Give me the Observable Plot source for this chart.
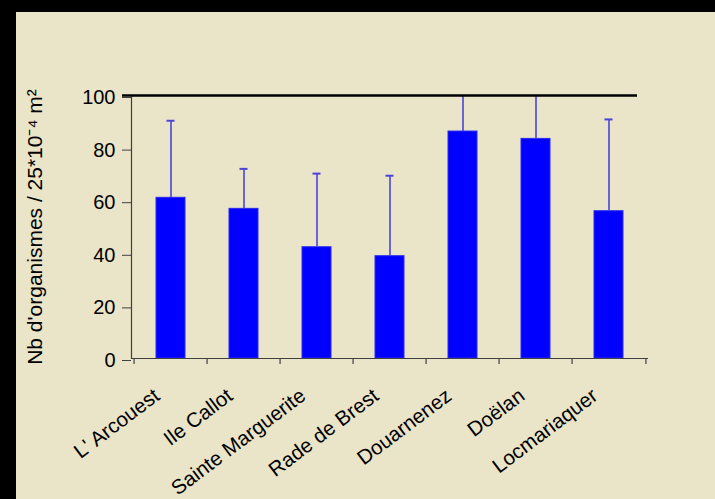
<!DOCTYPE html>
<html>
<head>
<meta charset="utf-8">
<script src="https://cdn.jsdelivr.net/npm/d3@7"></script>
<script src="https://cdn.jsdelivr.net/npm/@observablehq/plot@0.6"></script>
<style>
  html, body { margin: 0; padding: 0; background: #000; }
  body { padding: 12px 0 0 16px; width: 699px; height: 487px; }
  #chart svg { display: block; background: #EAE4C8; }
</style>
</head>
<body>
<div id="chart"></div>
<script>
const sites = ["L' Arcouest", "Ile Callot", "Sainte Marguerite", "Rade de Brest", "Douarnenez", "Doëlan", "Locmariaquer"];
const means = [61.1, 56.9, 42.3, 38.9, 86.3, 83.5, 56.0];
const upper = [90.4, 72.1, 70.3, 69.5, 115, 113, 90.9];
const yTicks = [0, 20, 40, 60, 80, 100];
const yLabel = "Nb d'organismes / 25*10⁻⁴ m²";

const data = sites.map((s, i) => ({site: s, mean: means[i], upper: upper[i]}));

const W = 699, H = 487;
const mL = 115, mR = 67, mT = 83, mB = 141;
const step = (W - mL - mR) / sites.length;
const font = "'Liberation Sans', Arial, sans-serif";
const axisColor = "#404040";

const chart = Plot.plot({
  width: W,
  height: H,
  marginLeft: mL,
  marginRight: mR,
  marginTop: mT,
  marginBottom: mB,
  style: {fontFamily: font, background: "#EAE4C8", color: "#000"},
  x: {type: "band", domain: sites, paddingInner: 0.6, paddingOuter: 0.3, axis: null},
  y: {domain: [0, 100], axis: null},
  marks: [
    Plot.barY(data, {x: "site", y: "mean", fill: "#0000FF", stroke: "#2a2af0", strokeWidth: 1}),
    Plot.ruleX(data, {x: "site", y1: "mean", y2: "upper", stroke: "#4b44d8", strokeWidth: 1.6, clip: true}),
    Plot.tickY(data.filter(d => d.upper <= 100), {x: "site", y: "upper", stroke: "#4b44d8", strokeWidth: 2, insetLeft: 10.5, insetRight: 10.5}),
    Plot.ruleY([0], {stroke: axisColor, strokeWidth: 1.2}),
    Plot.frame({anchor: "left", stroke: axisColor, strokeWidth: 1.2}),
    Plot.ruleX(sites, {x: d => d, y1: 0, y2: 0, insetBottom: -6, dx: -step / 2, stroke: axisColor, strokeWidth: 1.2}),
    Plot.ruleX(sites.slice(-1), {x: d => d, y1: 0, y2: 0, insetBottom: -6, dx: step / 2, stroke: axisColor, strokeWidth: 1.2}),
    Plot.axisY(yTicks, {tickSize: 9, tickPadding: 7, dy: 2, fontSize: 20, stroke: axisColor, fill: "#000", label: null}),
    Plot.ruleY([100], {stroke: "#000", strokeWidth: 2.4, insetLeft: -9, insetRight: 11}),
    Plot.text(sites, {x: d => d, frameAnchor: "bottom", dy: 40, dx: -10, rotate: -37, textAnchor: "end", lineAnchor: "bottom", fontSize: 20.5, fill: "#000"}),
    Plot.text([yLabel], {frameAnchor: "left", dx: -96, rotate: -90, textAnchor: "middle", lineAnchor: "middle", fontSize: 21, fill: "#000"})
  ]
});
document.getElementById("chart").append(chart);
</script>
</body>
</html>
